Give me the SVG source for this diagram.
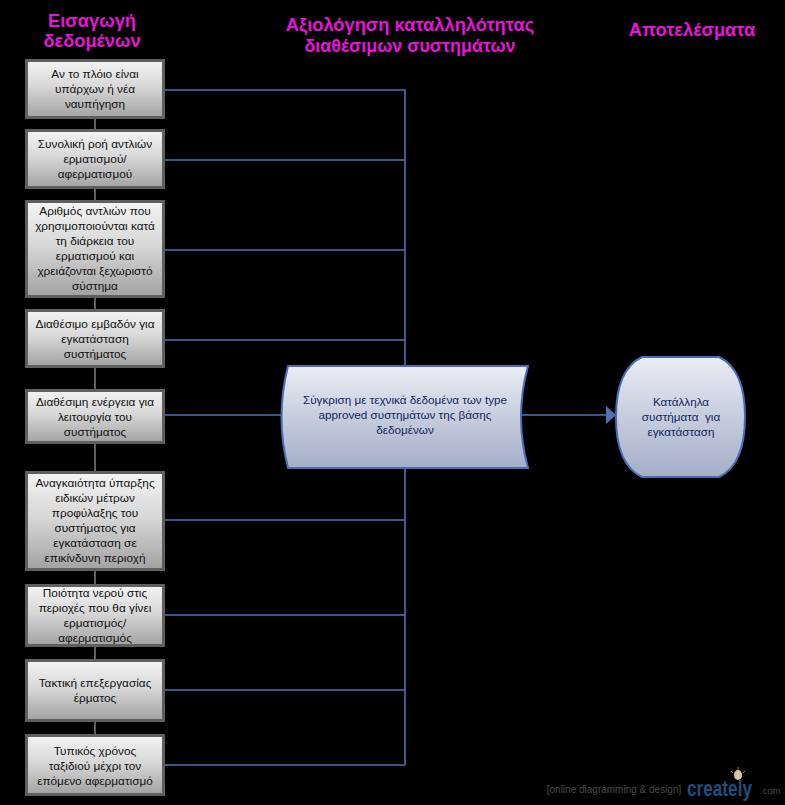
<svg xmlns="http://www.w3.org/2000/svg" width="785" height="805" viewBox="0 0 785 805">
<style>
text{font-family:"Liberation Sans",Arial,sans-serif;text-anchor:middle}
.h{font-size:18.3px;font-weight:bold;fill:#e815d8}
.t{font-size:11.8px;fill:#111}
.b{font-size:11.7px;fill:#12285c}
.n{fill:url(#g);stroke:#5f5f5f;stroke-width:3}
.s{fill:url(#bl);stroke:#4a6cb4;stroke-width:2}
.c{fill:none;stroke:#5370b4;stroke-width:1.6}
.v{fill:none;stroke:#5f5f5f;stroke-width:2}
</style>
<defs>
<linearGradient id="g" x1="0" y1="0" x2="0" y2="1"><stop offset="0" stop-color="#f4f4f4"/><stop offset=".45" stop-color="#d8d8d8"/><stop offset="1" stop-color="#a2a2a2"/></linearGradient>
<linearGradient id="bl" x1="0" y1="0" x2="0" y2="1"><stop offset="0" stop-color="#eaedf4"/><stop offset=".45" stop-color="#c9d0e0"/><stop offset="1" stop-color="#a4aec8"/></linearGradient>
</defs>
<rect width="785" height="805" fill="#000"/>
<g id="connectors">
<path class="v" d="M95 118V735"/>
<path class="c" d="M164 90H405V366M164 160H405M164 250H405M164 340H405M164 415H282M405 468V765M164 520H405M164 615H405M164 690H405M164 765H405M520 415H608"/>
<path d="M606 406L616 415L606 424Z" fill="#5370b4"/>
</g>
<g id="heading-input"><text class="h" x="92" y="27">Εισαγωγή</text><text class="h" x="92" y="47">δεδομένων</text></g>
<g id="heading-eval"><text class="h" x="410" y="31">Αξιολόγηση καταλληλότητας</text><text class="h" x="410" y="52" style="font-size:17.9px">διαθέσιμων συστημάτων</text></g>
<g id="heading-results"><text class="h" x="692" y="36">Αποτελέσματα</text></g>
<g id="n1"><rect class="n" x="26.500" y="60.500" width="137" height="57"/><text class="t" x="95" y="78">Αν το πλόιο είναι</text><text class="t" x="95" y="93">υπάρχων ή νέα</text><text class="t" x="95" y="108">ναυπήγηση</text></g>
<g id="n2"><rect class="n" x="26.500" y="130.500" width="137" height="57"/><text class="t" x="95" y="148">Συνολική ροή αντλιών</text><text class="t" x="95" y="163">ερματισμού/</text><text class="t" x="95" y="178">αφερματισμού</text></g>
<g id="n3"><rect class="n" x="26.500" y="201.500" width="137" height="95"/><text class="t" x="95" y="215">Αριθμός αντλιών που</text><text class="t" x="95" y="230">χρησιμοποιούνται κατά</text><text class="t" x="95" y="245">τη διάρκεια του</text><text class="t" x="95" y="260">ερματισμού και</text><text class="t" x="95" y="275">χρειάζονται ξεχωριστό</text><text class="t" x="95" y="290">σύστημα</text></g>
<g id="n4"><rect class="n" x="26.500" y="310.500" width="137" height="56"/><text class="t" x="95" y="328">Διαθέσιμο εμβαδόν για</text><text class="t" x="95" y="343">εγκατάσταση</text><text class="t" x="95" y="358">συστήματος</text></g>
<g id="n5"><rect class="n" x="26.500" y="390.500" width="137" height="52"/><text class="t" x="95" y="406">Διαθέσιμη ενέργεια για</text><text class="t" x="95" y="421">λειτουργία του</text><text class="t" x="95" y="436">συστήματος</text></g>
<g id="n6"><rect class="n" x="26.500" y="472.500" width="137" height="97"/><text class="t" x="95" y="487">Αναγκαιότητα ύπαρξης</text><text class="t" x="95" y="502">ειδικών μέτρων</text><text class="t" x="95" y="517">προφύλαξης του</text><text class="t" x="95" y="532">συστήματος για</text><text class="t" x="95" y="547">εγκατάσταση σε</text><text class="t" x="95" y="562">επικίνδυνη περιοχή</text></g>
<g id="n7"><rect class="n" x="26.500" y="585.500" width="137" height="60"/><text class="t" x="95" y="597">Ποιότητα νερού στις</text><text class="t" x="95" y="612">περιοχές που θα γίνει</text><text class="t" x="95" y="627">ερματισμός/</text><text class="t" x="95" y="642">αφερματισμός</text></g>
<g id="n8"><rect class="n" x="26.500" y="660.500" width="137" height="60"/><text class="t" x="95" y="687">Τακτική επεξεργασίας</text><text class="t" x="95" y="702">έρματος</text></g>
<g id="n9"><rect class="n" x="26.500" y="735.500" width="137" height="59"/><text class="t" x="95" y="755">Τυπικός χρόνος</text><text class="t" x="95" y="770">ταξιδιού μέχρι τον</text><text class="t" x="95" y="785">επόμενο αφερματισμό</text></g>
<g id="compare"><path class="s" d="M288 366H528Q514 417 528 468H288Q275 417 288 366Z"/><text class="b" x="405" y="404">Σύγκριση με τεχνικά δεδομένα των type</text><text class="b" x="405" y="419">approved συστημάτων της βάσης</text><text class="b" x="405" y="434">δεδομένων</text></g>
<g id="result"><path class="s" d="M642 357H719C736 365 745 385 745 417C745 449 736 469 719 477H642C625 469 616 449 616 417C616 385 625 365 642 357Z"/><text class="b" x="681" y="406">Κατάλληλα</text><text class="b" x="681" y="421" style="white-space:pre">συστήματα  για</text><text class="b" x="681" y="436">εγκατάσταση</text></g>
<g id="watermark">
<text x="614" y="793" font-size="10" fill="#4a4a4a">[online diagramming &amp; design]</text>
<text x="0" y="0" transform="translate(687 796) scale(.8 1)" font-size="21.500" font-weight="bold" fill="#1d4f7c" style="text-anchor:start">creately</text>
<text x="760" y="794" font-size="9.500" fill="#4a4a4a" style="text-anchor:start">.com</text>
<ellipse cx="738" cy="775" rx="4" ry="5" fill="#d8c8a0"/>
<path d="M738 767v3M731 771l2 2M745 771l-2 2" stroke="#a08040" fill="none"/>
</g>
</svg>
